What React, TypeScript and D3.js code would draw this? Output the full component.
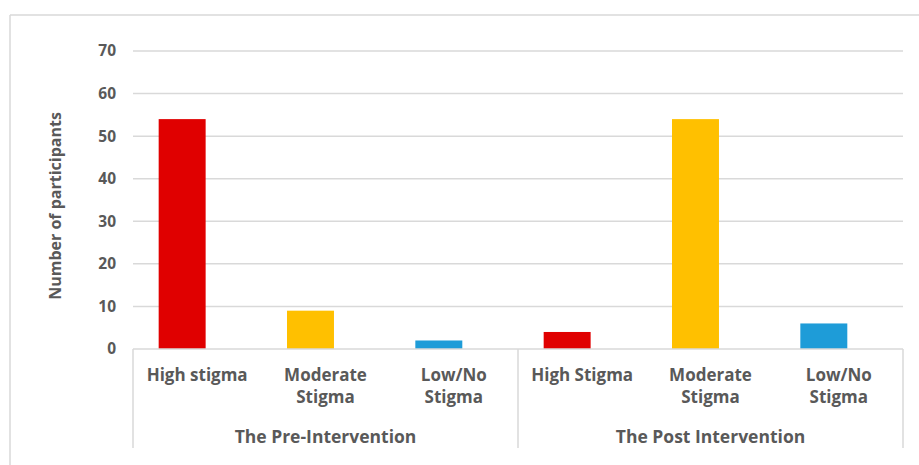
import React from 'react';
import * as d3 from 'd3';

const groups = ['The Pre-Intervention', 'The Post Intervention'];
const categories = ['High stigma', 'Moderate Stigma', 'Low/No Stigma', 'High Stigma', 'Moderate Stigma ', 'Low/No Stigma '];
const categoryLines = [['High stigma'], ['Moderate', 'Stigma'], ['Low/No', 'Stigma'], ['High Stigma'], ['Moderate', 'Stigma'], ['Low/No', 'Stigma']];
const groupOf = [0, 0, 0, 1, 1, 1];
const values = [54, 9, 2, 4, 54, 6];
const barColors = ['#E00000', '#FFC000', '#1E9CD8', '#E00000', '#FFC000', '#1E9CD8'];
const yTicks = [0, 10, 20, 30, 40, 50, 60, 70];

const W = 919;
const H = 465;
const margin = { top: 51, right: 16, bottom: 116, left: 133 };
const FONT = "'Open Sans', sans-serif";
const GREY = '#595959';
const LINE = '#d9d9d9';

export default function App() {
  const x = d3.scaleBand<string>()
    .domain(categories)
    .range([margin.left, W - margin.right]);
  const y = d3.scaleLinear()
    .domain([0, 70])
    .range([H - margin.bottom, margin.top]);
  const bw = x.bandwidth();
  const y0 = y(0);
  const sepBottom = 448;

  const groupEdges = groups.map((g, gi) => {
    const cats = categories.filter((_, i) => groupOf[i] === gi);
    const start = x(cats[0]) as number;
    const end = (x(cats[cats.length - 1]) as number) + bw;
    return { g, start, end };
  });

  return (
    <svg width={W} height={H} style={{ position: 'absolute', left: 0, top: 0, background: '#fff' }}>
      {/* outer frame */}
      <line x1={10} x2={W} y1={15} y2={15} stroke={LINE} strokeWidth={1.5} />
      <line x1={10} x2={10} y1={15} y2={H} stroke={LINE} strokeWidth={1.5} />

      {yTicks.filter(t => t > 0).map(t => (
        <line key={t} x1={margin.left} x2={W - margin.right} y1={y(t)} y2={y(t)} stroke={LINE} strokeWidth={1.5} />
      ))}
      {yTicks.map(t => (
        <text key={'l' + t} x={116} y={y(t)} dy="0.35em" textAnchor="end" fill={GREY}
          fontFamily={FONT} fontWeight="bold" fontSize={15.5}>{t}</text>
      ))}

      {categories.map((c, i) => (
        <rect key={c} x={(x(c) as number) + bw * 0.2} width={bw * 0.366}
          y={y(values[i])} height={y0 - y(values[i])} fill={barColors[i]} />
      ))}

      {/* axis and separators */}
      <line x1={margin.left} x2={W - margin.right} y1={y0} y2={y0} stroke={LINE} strokeWidth={1.5} />
      {[groupEdges[0].start, groupEdges[0].end, groupEdges[1].end].map((sx, i) => (
        <line key={'s' + i} x1={sx} x2={sx} y1={y0} y2={sepBottom} stroke={LINE} strokeWidth={1.5} />
      ))}

      {categories.map((c, i) => (
        <text key={'c' + i} x={(x(c) as number) + bw / 2} y={375} textAnchor="middle" fill={GREY}
          fontFamily={FONT} fontWeight="bold" fontSize={17}>
          {categoryLines[i].map((ln, k) => (
            <tspan key={k} x={(x(c) as number) + bw / 2} dy={k === 0 ? '0.35em' : 22}>{ln}</tspan>
          ))}
        </text>
      ))}

      {groupEdges.map(ge => (
        <text key={ge.g} x={(ge.start + ge.end) / 2} y={437} dy="0.35em" textAnchor="middle" fill={GREY}
          fontFamily={FONT} fontWeight="bold" fontSize={17.5}>{ge.g}</text>
      ))}

      <text transform="translate(55,206) rotate(-90)" dy="0.35em" textAnchor="middle"
        fill={GREY} fontFamily={FONT} fontWeight="bold" fontSize={16}>Number of participants</text>
    </svg>
  );
}
